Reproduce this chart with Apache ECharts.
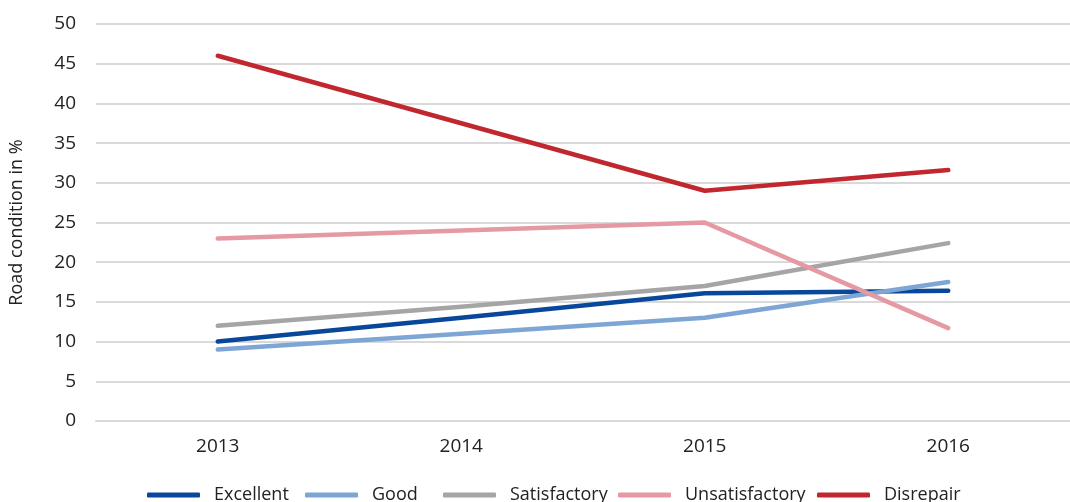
<!DOCTYPE html>
<html>
<head>
<meta charset="utf-8">
<script src="https://cdn.jsdelivr.net/npm/echarts@6/dist/echarts.min.js"></script>
<style>
  html, body { margin: 0; padding: 0; background: #fff; }
  #chart { width: 1070px; height: 502px; }
</style>
</head>
<body>
<div id="chart"></div>
<script>
// Road condition shares by year (percent)
const years = ['2013', '2014', '2015', '2016'];
const excellent = [10, 13, 16.1, 16.4];
const good = [9, 11, 13, 17.5];
const satisfactory = [12, 14.4, 17, 22.4];
const unsatisfactory = [23, 24, 25, 11.7];
const disrepair = [46, 37.5, 29, 31.6];

const seriesNames = ['Excellent', 'Good', 'Satisfactory', 'Unsatisfactory', 'Disrepair'];
const seriesData = [excellent, good, satisfactory, unsatisfactory, disrepair];
const colors = ['#08479a', '#7ea6d5', '#a5a5a5', '#e599a2', '#c1272f'];

// left edge of each legend entry along the bottom row
const legendLefts = [147, 305, 443, 618, 817];

const font = '"Open Sans", "Noto Sans", sans-serif';

const chart = echarts.init(document.getElementById('chart'), null, { renderer: 'canvas' });

chart.setOption({
  animation: false,
  color: colors,
  grid: { left: 95, right: -12, top: 24, bottom: 81, containLabel: false },
  legend: seriesNames.map((name, i) => ({
    data: [name],
    top: 486,
    left: legendLefts[i],
    padding: 0,
    itemWidth: 53,
    itemHeight: 5,
    icon: 'roundRect',
    textStyle: { fontFamily: font, fontSize: 18, color: '#222', padding: [0, 0, 0, 9] }
  })),
  xAxis: {
    type: 'category',
    data: years,
    boundaryGap: true,
    axisLine: { show: true, lineStyle: { color: '#d9d9d9', width: 2 } },
    axisTick: { show: false },
    axisLabel: { fontFamily: font, fontSize: 19, color: '#222', margin: 16 }
  },
  yAxis: {
    type: 'value',
    min: 0,
    max: 50,
    interval: 5,
    name: 'Road condition in %',
    nameLocation: 'middle',
    nameGap: 70,
    nameRotate: 90,
    nameTextStyle: { fontFamily: font, fontSize: 18, color: '#222' },
    axisLine: { show: false },
    axisTick: { show: false },
    axisLabel: { fontFamily: font, fontSize: 19, color: '#222', margin: 20 },
    splitLine: { lineStyle: { color: '#d9d9d9', width: 2 } }
  },
  series: seriesNames.map((name, i) => ({
    name: name,
    type: 'line',
    data: seriesData[i],
    symbol: 'none',
    showSymbol: false,
    smooth: false,
    lineStyle: { width: 4.5, color: colors[i], cap: 'round', join: 'round' },
    itemStyle: { color: colors[i] }
  }))
});
</script>
</body>
</html>
